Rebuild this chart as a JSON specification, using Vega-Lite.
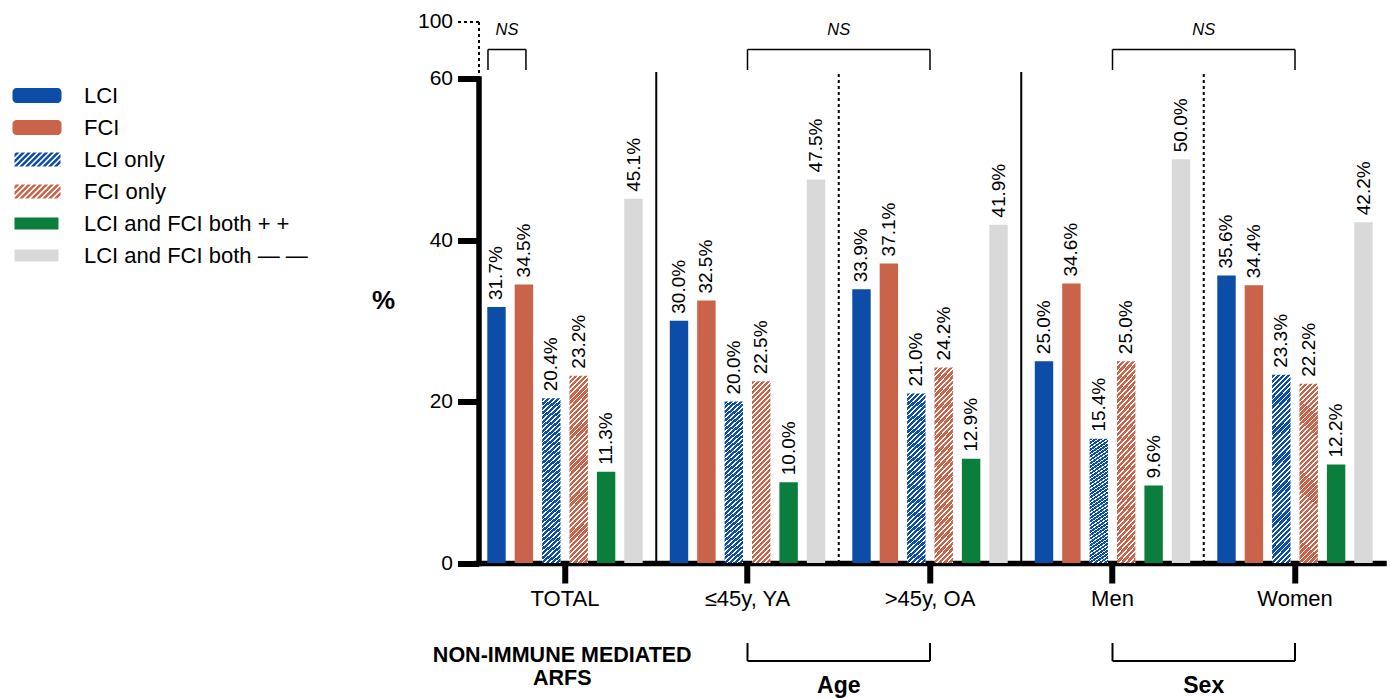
{
  "$schema": "https://vega.github.io/schema/vega-lite/v6.json",
  "width": 912.5,
  "height": 484.5,
  "autosize": {"type": "none"},
  "padding": {"left": 473.75, "top": 78.5, "right": 3.75, "bottom": 135},
  "config": {
    "font": "Liberation Sans",
    "view": {"stroke": null},
    "axis": {"labelFont": "Liberation Sans", "titleFont": "Liberation Sans"},
    "legend": {"labelFont": "Liberation Sans"}
  },
  "datasets": {
    "bars": [
      {"group": "TOTAL", "series": "LCI", "value": 31.7},
      {"group": "TOTAL", "series": "FCI", "value": 34.5},
      {"group": "TOTAL", "series": "LCI only", "value": 20.4},
      {"group": "TOTAL", "series": "FCI only", "value": 23.2},
      {"group": "TOTAL", "series": "LCI and FCI both + +", "value": 11.3},
      {"group": "TOTAL", "series": "LCI and FCI both — —", "value": 45.1},
      {"group": "≤45y, YA", "series": "LCI", "value": 30.0},
      {"group": "≤45y, YA", "series": "FCI", "value": 32.5},
      {"group": "≤45y, YA", "series": "LCI only", "value": 20.0},
      {"group": "≤45y, YA", "series": "FCI only", "value": 22.5},
      {"group": "≤45y, YA", "series": "LCI and FCI both + +", "value": 10.0},
      {"group": "≤45y, YA", "series": "LCI and FCI both — —", "value": 47.5},
      {"group": ">45y, OA", "series": "LCI", "value": 33.9},
      {"group": ">45y, OA", "series": "FCI", "value": 37.1},
      {"group": ">45y, OA", "series": "LCI only", "value": 21.0},
      {"group": ">45y, OA", "series": "FCI only", "value": 24.2},
      {"group": ">45y, OA", "series": "LCI and FCI both + +", "value": 12.9},
      {"group": ">45y, OA", "series": "LCI and FCI both — —", "value": 41.9},
      {"group": "Men", "series": "LCI", "value": 25.0},
      {"group": "Men", "series": "FCI", "value": 34.6},
      {"group": "Men", "series": "LCI only", "value": 15.4},
      {"group": "Men", "series": "FCI only", "value": 25.0},
      {"group": "Men", "series": "LCI and FCI both + +", "value": 9.6},
      {"group": "Men", "series": "LCI and FCI both — —", "value": 50.0},
      {"group": "Women", "series": "LCI", "value": 35.6},
      {"group": "Women", "series": "FCI", "value": 34.4},
      {"group": "Women", "series": "LCI only", "value": 23.3},
      {"group": "Women", "series": "FCI only", "value": 22.2},
      {"group": "Women", "series": "LCI and FCI both + +", "value": 12.2},
      {"group": "Women", "series": "LCI and FCI both — —", "value": 42.2}
    ],
    "boundaries": [
      {"group": "≤45y, YA", "kind": "between"},
      {"group": ">45y, OA", "kind": "within"},
      {"group": "Men", "kind": "between"},
      {"group": "Women", "kind": "within"}
    ],
    "spans": [
      {"from": "≤45y, YA", "to": ">45y, OA"},
      {"from": "Men", "to": "Women"}
    ],
    "ends": [
      {"at": "≤45y, YA"}, {"at": ">45y, OA"}, {"at": "Men"}, {"at": "Women"}
    ]
  },
  "layer": [
    {
      "layer": [
        {
          "data": {"name": "bars"},
          "mark": {"type": "point", "filled": true, "opacity": 0, "size": 225},
          "encoding": {
            "x": {"field": "group", "type": "nominal", "sort": null, "scale": {"domain": ["TOTAL", "≤45y, YA", ">45y, OA", "Men", "Women"], "paddingInner": 0, "paddingOuter": 0}},
            "xOffset": {"field": "series", "type": "nominal", "sort": null, "scale": {"domain": ["LCI", "FCI", "LCI only", "FCI only", "LCI and FCI both + +", "LCI and FCI both — —"], "paddingInner": 0.328, "paddingOuter": 0.494}},
            "y": {"field": "value", "type": "quantitative", "scale": {"domain": [0, 60], "nice": false}},
            "color": {"field": "series", "type": "nominal", "sort": null,
              "scale": {"domain": ["LCI", "FCI", "LCI only", "FCI only", "LCI and FCI both + +", "LCI and FCI both — —"], "range": ["#0B4DA7", "#C9634A", "#0B4DA7", "#C9634A", "#0B7E3D", "#D9D9D9"]},
              "legend": {"orient": "none", "legendX": -464.75, "legendY": 6, "title": null, "padding": 0, "symbolSize": 225, "symbolOpacity": 1, "symbolStrokeWidth": 0, "labelFontSize": 22, "labelColor": "black", "labelOffset": 53, "labelLimit": 500, "rowPadding": 10}},
            "shape": {"field": "series", "type": "nominal", "sort": null,
              "scale": {"domain": ["LCI", "FCI", "LCI only", "FCI only", "LCI and FCI both + +", "LCI and FCI both — —"], "range": [
                "M-0.467,-1H5A0.533,0.533,0,0,1,5.533,-0.467V0.467A0.533,0.533,0,0,1,5,1H-0.467A0.533,0.533,0,0,1,-1,0.467V-0.467A0.533,0.533,0,0,1,-0.467,-1Z",
                "M-0.467,-1H5A0.533,0.533,0,0,1,5.533,-0.467V0.467A0.533,0.533,0,0,1,5,1H-0.467A0.533,0.533,0,0,1,-1,0.467V-0.467A0.533,0.533,0,0,1,-0.467,-1Z",
                "M-0.733,-0.733L-0.733,-0.267L-0.067,-0.933L-0.533,-0.933ZM-0.733,0.033L-0.733,0.5L0.7,-0.933L0.233,-0.933ZM-0.733,0.8L-0.733,0.933L-0.4,0.933L1.467,-0.933L1,-0.933ZM-0.1,0.933L0.367,0.933L2.233,-0.933L1.767,-0.933ZM0.667,0.933L1.133,0.933L3,-0.933L2.533,-0.933ZM1.433,0.933L1.9,0.933L3.767,-0.933L3.3,-0.933ZM2.2,0.933L2.667,0.933L4.533,-0.933L4.067,-0.933ZM2.967,0.933L3.433,0.933L5.3,-0.933L4.833,-0.933ZM3.733,0.933L4.2,0.933L5.4,-0.267L5.4,-0.733ZM4.5,0.933L4.967,0.933L5.4,0.5L5.4,0.033ZM5.267,0.933L5.4,0.933L5.4,0.8Z",
                "M-0.733,-0.733L-0.733,-0.267L-0.067,-0.933L-0.533,-0.933ZM-0.733,0.033L-0.733,0.5L0.7,-0.933L0.233,-0.933ZM-0.733,0.8L-0.733,0.933L-0.4,0.933L1.467,-0.933L1,-0.933ZM-0.1,0.933L0.367,0.933L2.233,-0.933L1.767,-0.933ZM0.667,0.933L1.133,0.933L3,-0.933L2.533,-0.933ZM1.433,0.933L1.9,0.933L3.767,-0.933L3.3,-0.933ZM2.2,0.933L2.667,0.933L4.533,-0.933L4.067,-0.933ZM2.967,0.933L3.433,0.933L5.3,-0.933L4.833,-0.933ZM3.733,0.933L4.2,0.933L5.4,-0.267L5.4,-0.733ZM4.5,0.933L4.967,0.933L5.4,0.5L5.4,0.033ZM5.267,0.933L5.4,0.933L5.4,0.8Z",
                "M-0.733,-0.8H5.133V0.8H-0.733Z",
                "M-0.733,-0.8H5.133V0.8H-0.733Z"
              ]},
              "legend": {"orient": "none", "legendX": -464.75, "legendY": 6, "title": null, "padding": 0, "symbolSize": 225, "symbolOpacity": 1, "symbolStrokeWidth": 0, "labelFontSize": 22, "labelColor": "black", "labelOffset": 53, "labelLimit": 500, "rowPadding": 10}}
          }
        },
        {
          "data": {"name": "bars"},
          "transform": [{"filter": {"field": "series", "oneOf": ["LCI", "FCI", "LCI and FCI both + +", "LCI and FCI both — —"]}}],
          "mark": {"type": "bar"},
          "encoding": {
            "x": {"field": "group", "type": "nominal", "sort": null,
              "scale": {"domain": ["TOTAL", "≤45y, YA", ">45y, OA", "Men", "Women"], "paddingInner": 0, "paddingOuter": 0},
              "axis": {"title": null, "labelAngle": 0, "labelAlign": "center", "labelBaseline": "top", "labelFontSize": 22, "labelColor": "black", "labelPadding": 5, "domainColor": "black", "domainWidth": 5.5, "tickColor": "black", "tickWidth": 6, "tickSize": 20, "grid": false}},
            "xOffset": {"field": "series", "type": "nominal", "sort": null,
              "scale": {"domain": ["LCI", "FCI", "LCI only", "FCI only", "LCI and FCI both + +", "LCI and FCI both — —"], "paddingInner": 0.328, "paddingOuter": 0.494}},
            "y": {"field": "value", "type": "quantitative",
              "scale": {"domain": [0, 60], "nice": false},
              "axis": {"title": "%", "titleAngle": 0, "titleX": -95.5, "titleY": 221.5, "titleAlign": "center", "titleBaseline": "middle", "titleFontSize": 26, "titleFontWeight": "bold", "titleColor": "black",
                "values": [0, 20, 40, 60], "offset": -4.75, "domainColor": "black", "domainWidth": 5.5, "domainCap": "square", "tickColor": "black", "tickWidth": 6, "tickSize": 21, "labelFontSize": 21, "labelColor": "black", "labelPadding": 5, "grid": false}},
            "color": {"field": "series", "type": "nominal", "sort": null,
              "scale": {"domain": ["LCI", "FCI", "LCI only", "FCI only", "LCI and FCI both + +", "LCI and FCI both — —"], "range": ["#0B4DA7", "#C9634A", "#0B4DA7", "#C9634A", "#0B7E3D", "#D9D9D9"]},
              "legend": {"orient": "none", "legendX": -464.75, "legendY": 6, "title": null, "padding": 0, "symbolSize": 225, "symbolOpacity": 1, "symbolStrokeWidth": 0, "labelFontSize": 22, "labelColor": "black", "labelOffset": 53, "labelLimit": 500, "rowPadding": 10}}
          }
        },
        {
          "data": {"name": "bars"},
          "transform": [{"filter": {"field": "series", "equal": "LCI only"}}],
          "mark": {"type": "bar", "fill": {"gradient": "linear", "x1": 0, "y1": 0, "x2": 0.1089, "y2": 1.089, "stops": [
            {"offset":0,"color":"#0B4DA7"},{"offset":0.0165,"color":"#0B4DA7"},{"offset":0.0165,"color":"#ffffff"},{"offset":0.025,"color":"#ffffff"},
            {"offset":0.025,"color":"#0B4DA7"},{"offset":0.0415,"color":"#0B4DA7"},{"offset":0.0415,"color":"#ffffff"},{"offset":0.05,"color":"#ffffff"},
            {"offset":0.05,"color":"#0B4DA7"},{"offset":0.0665,"color":"#0B4DA7"},{"offset":0.0665,"color":"#ffffff"},{"offset":0.075,"color":"#ffffff"},
            {"offset":0.075,"color":"#0B4DA7"},{"offset":0.0915,"color":"#0B4DA7"},{"offset":0.0915,"color":"#ffffff"},{"offset":0.1,"color":"#ffffff"},
            {"offset":0.1,"color":"#0B4DA7"},{"offset":0.1165,"color":"#0B4DA7"},{"offset":0.1165,"color":"#ffffff"},{"offset":0.125,"color":"#ffffff"},
            {"offset":0.125,"color":"#0B4DA7"},{"offset":0.1415,"color":"#0B4DA7"},{"offset":0.1415,"color":"#ffffff"},{"offset":0.15,"color":"#ffffff"},
            {"offset":0.15,"color":"#0B4DA7"},{"offset":0.1665,"color":"#0B4DA7"},{"offset":0.1665,"color":"#ffffff"},{"offset":0.175,"color":"#ffffff"},
            {"offset":0.175,"color":"#0B4DA7"},{"offset":0.1915,"color":"#0B4DA7"},{"offset":0.1915,"color":"#ffffff"},{"offset":0.2,"color":"#ffffff"},
            {"offset":0.2,"color":"#0B4DA7"},{"offset":0.2165,"color":"#0B4DA7"},{"offset":0.2165,"color":"#ffffff"},{"offset":0.225,"color":"#ffffff"},
            {"offset":0.225,"color":"#0B4DA7"},{"offset":0.2415,"color":"#0B4DA7"},{"offset":0.2415,"color":"#ffffff"},{"offset":0.25,"color":"#ffffff"},
            {"offset":0.25,"color":"#0B4DA7"},{"offset":0.2665,"color":"#0B4DA7"},{"offset":0.2665,"color":"#ffffff"},{"offset":0.275,"color":"#ffffff"},
            {"offset":0.275,"color":"#0B4DA7"},{"offset":0.2915,"color":"#0B4DA7"},{"offset":0.2915,"color":"#ffffff"},{"offset":0.3,"color":"#ffffff"},
            {"offset":0.3,"color":"#0B4DA7"},{"offset":0.3165,"color":"#0B4DA7"},{"offset":0.3165,"color":"#ffffff"},{"offset":0.325,"color":"#ffffff"},
            {"offset":0.325,"color":"#0B4DA7"},{"offset":0.3415,"color":"#0B4DA7"},{"offset":0.3415,"color":"#ffffff"},{"offset":0.35,"color":"#ffffff"},
            {"offset":0.35,"color":"#0B4DA7"},{"offset":0.3665,"color":"#0B4DA7"},{"offset":0.3665,"color":"#ffffff"},{"offset":0.375,"color":"#ffffff"},
            {"offset":0.375,"color":"#0B4DA7"},{"offset":0.3915,"color":"#0B4DA7"},{"offset":0.3915,"color":"#ffffff"},{"offset":0.4,"color":"#ffffff"},
            {"offset":0.4,"color":"#0B4DA7"},{"offset":0.4165,"color":"#0B4DA7"},{"offset":0.4165,"color":"#ffffff"},{"offset":0.425,"color":"#ffffff"},
            {"offset":0.425,"color":"#0B4DA7"},{"offset":0.4415,"color":"#0B4DA7"},{"offset":0.4415,"color":"#ffffff"},{"offset":0.45,"color":"#ffffff"},
            {"offset":0.45,"color":"#0B4DA7"},{"offset":0.4665,"color":"#0B4DA7"},{"offset":0.4665,"color":"#ffffff"},{"offset":0.475,"color":"#ffffff"},
            {"offset":0.475,"color":"#0B4DA7"},{"offset":0.4915,"color":"#0B4DA7"},{"offset":0.4915,"color":"#ffffff"},{"offset":0.5,"color":"#ffffff"},
            {"offset":0.5,"color":"#0B4DA7"},{"offset":0.5165,"color":"#0B4DA7"},{"offset":0.5165,"color":"#ffffff"},{"offset":0.525,"color":"#ffffff"},
            {"offset":0.525,"color":"#0B4DA7"},{"offset":0.5415,"color":"#0B4DA7"},{"offset":0.5415,"color":"#ffffff"},{"offset":0.55,"color":"#ffffff"},
            {"offset":0.55,"color":"#0B4DA7"},{"offset":0.5665,"color":"#0B4DA7"},{"offset":0.5665,"color":"#ffffff"},{"offset":0.575,"color":"#ffffff"},
            {"offset":0.575,"color":"#0B4DA7"},{"offset":0.5915,"color":"#0B4DA7"},{"offset":0.5915,"color":"#ffffff"},{"offset":0.6,"color":"#ffffff"},
            {"offset":0.6,"color":"#0B4DA7"},{"offset":0.6165,"color":"#0B4DA7"},{"offset":0.6165,"color":"#ffffff"},{"offset":0.625,"color":"#ffffff"},
            {"offset":0.625,"color":"#0B4DA7"},{"offset":0.6415,"color":"#0B4DA7"},{"offset":0.6415,"color":"#ffffff"},{"offset":0.65,"color":"#ffffff"},
            {"offset":0.65,"color":"#0B4DA7"},{"offset":0.6665,"color":"#0B4DA7"},{"offset":0.6665,"color":"#ffffff"},{"offset":0.675,"color":"#ffffff"},
            {"offset":0.675,"color":"#0B4DA7"},{"offset":0.6915,"color":"#0B4DA7"},{"offset":0.6915,"color":"#ffffff"},{"offset":0.7,"color":"#ffffff"},
            {"offset":0.7,"color":"#0B4DA7"},{"offset":0.7165,"color":"#0B4DA7"},{"offset":0.7165,"color":"#ffffff"},{"offset":0.725,"color":"#ffffff"},
            {"offset":0.725,"color":"#0B4DA7"},{"offset":0.7415,"color":"#0B4DA7"},{"offset":0.7415,"color":"#ffffff"},{"offset":0.75,"color":"#ffffff"},
            {"offset":0.75,"color":"#0B4DA7"},{"offset":0.7665,"color":"#0B4DA7"},{"offset":0.7665,"color":"#ffffff"},{"offset":0.775,"color":"#ffffff"},
            {"offset":0.775,"color":"#0B4DA7"},{"offset":0.7915,"color":"#0B4DA7"},{"offset":0.7915,"color":"#ffffff"},{"offset":0.8,"color":"#ffffff"},
            {"offset":0.8,"color":"#0B4DA7"},{"offset":0.8165,"color":"#0B4DA7"},{"offset":0.8165,"color":"#ffffff"},{"offset":0.825,"color":"#ffffff"},
            {"offset":0.825,"color":"#0B4DA7"},{"offset":0.8415,"color":"#0B4DA7"},{"offset":0.8415,"color":"#ffffff"},{"offset":0.85,"color":"#ffffff"},
            {"offset":0.85,"color":"#0B4DA7"},{"offset":0.8665,"color":"#0B4DA7"},{"offset":0.8665,"color":"#ffffff"},{"offset":0.875,"color":"#ffffff"},
            {"offset":0.875,"color":"#0B4DA7"},{"offset":0.8915,"color":"#0B4DA7"},{"offset":0.8915,"color":"#ffffff"},{"offset":0.9,"color":"#ffffff"},
            {"offset":0.9,"color":"#0B4DA7"},{"offset":0.9165,"color":"#0B4DA7"},{"offset":0.9165,"color":"#ffffff"},{"offset":0.925,"color":"#ffffff"},
            {"offset":0.925,"color":"#0B4DA7"},{"offset":0.9415,"color":"#0B4DA7"},{"offset":0.9415,"color":"#ffffff"},{"offset":0.95,"color":"#ffffff"},
            {"offset":0.95,"color":"#0B4DA7"},{"offset":0.9665,"color":"#0B4DA7"},{"offset":0.9665,"color":"#ffffff"},{"offset":0.975,"color":"#ffffff"},
            {"offset":0.975,"color":"#0B4DA7"},{"offset":0.9915,"color":"#0B4DA7"},{"offset":0.9915,"color":"#ffffff"},{"offset":1,"color":"#ffffff"}
          ]}},
          "encoding": {
            "x": {"field": "group", "type": "nominal", "sort": null, "scale": {"domain": ["TOTAL", "≤45y, YA", ">45y, OA", "Men", "Women"], "paddingInner": 0, "paddingOuter": 0}},
            "xOffset": {"field": "series", "type": "nominal", "sort": null, "scale": {"domain": ["LCI", "FCI", "LCI only", "FCI only", "LCI and FCI both + +", "LCI and FCI both — —"], "paddingInner": 0.328, "paddingOuter": 0.494}},
            "y": {"field": "value", "type": "quantitative", "scale": {"domain": [0, 60], "nice": false}}
          }
        },
        {
          "data": {"name": "bars"},
          "transform": [{"filter": {"field": "series", "equal": "FCI only"}}],
          "mark": {"type": "bar", "fill": {"gradient": "linear", "x1": 0, "y1": 0, "x2": 0.1089, "y2": 1.089, "stops": [
            {"offset":0,"color":"#C9634A"},{"offset":0.0165,"color":"#C9634A"},{"offset":0.0165,"color":"#ffffff"},{"offset":0.025,"color":"#ffffff"},
            {"offset":0.025,"color":"#C9634A"},{"offset":0.0415,"color":"#C9634A"},{"offset":0.0415,"color":"#ffffff"},{"offset":0.05,"color":"#ffffff"},
            {"offset":0.05,"color":"#C9634A"},{"offset":0.0665,"color":"#C9634A"},{"offset":0.0665,"color":"#ffffff"},{"offset":0.075,"color":"#ffffff"},
            {"offset":0.075,"color":"#C9634A"},{"offset":0.0915,"color":"#C9634A"},{"offset":0.0915,"color":"#ffffff"},{"offset":0.1,"color":"#ffffff"},
            {"offset":0.1,"color":"#C9634A"},{"offset":0.1165,"color":"#C9634A"},{"offset":0.1165,"color":"#ffffff"},{"offset":0.125,"color":"#ffffff"},
            {"offset":0.125,"color":"#C9634A"},{"offset":0.1415,"color":"#C9634A"},{"offset":0.1415,"color":"#ffffff"},{"offset":0.15,"color":"#ffffff"},
            {"offset":0.15,"color":"#C9634A"},{"offset":0.1665,"color":"#C9634A"},{"offset":0.1665,"color":"#ffffff"},{"offset":0.175,"color":"#ffffff"},
            {"offset":0.175,"color":"#C9634A"},{"offset":0.1915,"color":"#C9634A"},{"offset":0.1915,"color":"#ffffff"},{"offset":0.2,"color":"#ffffff"},
            {"offset":0.2,"color":"#C9634A"},{"offset":0.2165,"color":"#C9634A"},{"offset":0.2165,"color":"#ffffff"},{"offset":0.225,"color":"#ffffff"},
            {"offset":0.225,"color":"#C9634A"},{"offset":0.2415,"color":"#C9634A"},{"offset":0.2415,"color":"#ffffff"},{"offset":0.25,"color":"#ffffff"},
            {"offset":0.25,"color":"#C9634A"},{"offset":0.2665,"color":"#C9634A"},{"offset":0.2665,"color":"#ffffff"},{"offset":0.275,"color":"#ffffff"},
            {"offset":0.275,"color":"#C9634A"},{"offset":0.2915,"color":"#C9634A"},{"offset":0.2915,"color":"#ffffff"},{"offset":0.3,"color":"#ffffff"},
            {"offset":0.3,"color":"#C9634A"},{"offset":0.3165,"color":"#C9634A"},{"offset":0.3165,"color":"#ffffff"},{"offset":0.325,"color":"#ffffff"},
            {"offset":0.325,"color":"#C9634A"},{"offset":0.3415,"color":"#C9634A"},{"offset":0.3415,"color":"#ffffff"},{"offset":0.35,"color":"#ffffff"},
            {"offset":0.35,"color":"#C9634A"},{"offset":0.3665,"color":"#C9634A"},{"offset":0.3665,"color":"#ffffff"},{"offset":0.375,"color":"#ffffff"},
            {"offset":0.375,"color":"#C9634A"},{"offset":0.3915,"color":"#C9634A"},{"offset":0.3915,"color":"#ffffff"},{"offset":0.4,"color":"#ffffff"},
            {"offset":0.4,"color":"#C9634A"},{"offset":0.4165,"color":"#C9634A"},{"offset":0.4165,"color":"#ffffff"},{"offset":0.425,"color":"#ffffff"},
            {"offset":0.425,"color":"#C9634A"},{"offset":0.4415,"color":"#C9634A"},{"offset":0.4415,"color":"#ffffff"},{"offset":0.45,"color":"#ffffff"},
            {"offset":0.45,"color":"#C9634A"},{"offset":0.4665,"color":"#C9634A"},{"offset":0.4665,"color":"#ffffff"},{"offset":0.475,"color":"#ffffff"},
            {"offset":0.475,"color":"#C9634A"},{"offset":0.4915,"color":"#C9634A"},{"offset":0.4915,"color":"#ffffff"},{"offset":0.5,"color":"#ffffff"},
            {"offset":0.5,"color":"#C9634A"},{"offset":0.5165,"color":"#C9634A"},{"offset":0.5165,"color":"#ffffff"},{"offset":0.525,"color":"#ffffff"},
            {"offset":0.525,"color":"#C9634A"},{"offset":0.5415,"color":"#C9634A"},{"offset":0.5415,"color":"#ffffff"},{"offset":0.55,"color":"#ffffff"},
            {"offset":0.55,"color":"#C9634A"},{"offset":0.5665,"color":"#C9634A"},{"offset":0.5665,"color":"#ffffff"},{"offset":0.575,"color":"#ffffff"},
            {"offset":0.575,"color":"#C9634A"},{"offset":0.5915,"color":"#C9634A"},{"offset":0.5915,"color":"#ffffff"},{"offset":0.6,"color":"#ffffff"},
            {"offset":0.6,"color":"#C9634A"},{"offset":0.6165,"color":"#C9634A"},{"offset":0.6165,"color":"#ffffff"},{"offset":0.625,"color":"#ffffff"},
            {"offset":0.625,"color":"#C9634A"},{"offset":0.6415,"color":"#C9634A"},{"offset":0.6415,"color":"#ffffff"},{"offset":0.65,"color":"#ffffff"},
            {"offset":0.65,"color":"#C9634A"},{"offset":0.6665,"color":"#C9634A"},{"offset":0.6665,"color":"#ffffff"},{"offset":0.675,"color":"#ffffff"},
            {"offset":0.675,"color":"#C9634A"},{"offset":0.6915,"color":"#C9634A"},{"offset":0.6915,"color":"#ffffff"},{"offset":0.7,"color":"#ffffff"},
            {"offset":0.7,"color":"#C9634A"},{"offset":0.7165,"color":"#C9634A"},{"offset":0.7165,"color":"#ffffff"},{"offset":0.725,"color":"#ffffff"},
            {"offset":0.725,"color":"#C9634A"},{"offset":0.7415,"color":"#C9634A"},{"offset":0.7415,"color":"#ffffff"},{"offset":0.75,"color":"#ffffff"},
            {"offset":0.75,"color":"#C9634A"},{"offset":0.7665,"color":"#C9634A"},{"offset":0.7665,"color":"#ffffff"},{"offset":0.775,"color":"#ffffff"},
            {"offset":0.775,"color":"#C9634A"},{"offset":0.7915,"color":"#C9634A"},{"offset":0.7915,"color":"#ffffff"},{"offset":0.8,"color":"#ffffff"},
            {"offset":0.8,"color":"#C9634A"},{"offset":0.8165,"color":"#C9634A"},{"offset":0.8165,"color":"#ffffff"},{"offset":0.825,"color":"#ffffff"},
            {"offset":0.825,"color":"#C9634A"},{"offset":0.8415,"color":"#C9634A"},{"offset":0.8415,"color":"#ffffff"},{"offset":0.85,"color":"#ffffff"},
            {"offset":0.85,"color":"#C9634A"},{"offset":0.8665,"color":"#C9634A"},{"offset":0.8665,"color":"#ffffff"},{"offset":0.875,"color":"#ffffff"},
            {"offset":0.875,"color":"#C9634A"},{"offset":0.8915,"color":"#C9634A"},{"offset":0.8915,"color":"#ffffff"},{"offset":0.9,"color":"#ffffff"},
            {"offset":0.9,"color":"#C9634A"},{"offset":0.9165,"color":"#C9634A"},{"offset":0.9165,"color":"#ffffff"},{"offset":0.925,"color":"#ffffff"},
            {"offset":0.925,"color":"#C9634A"},{"offset":0.9415,"color":"#C9634A"},{"offset":0.9415,"color":"#ffffff"},{"offset":0.95,"color":"#ffffff"},
            {"offset":0.95,"color":"#C9634A"},{"offset":0.9665,"color":"#C9634A"},{"offset":0.9665,"color":"#ffffff"},{"offset":0.975,"color":"#ffffff"},
            {"offset":0.975,"color":"#C9634A"},{"offset":0.9915,"color":"#C9634A"},{"offset":0.9915,"color":"#ffffff"},{"offset":1,"color":"#ffffff"}
          ]}},
          "encoding": {
            "x": {"field": "group", "type": "nominal", "sort": null, "scale": {"domain": ["TOTAL", "≤45y, YA", ">45y, OA", "Men", "Women"], "paddingInner": 0, "paddingOuter": 0}},
            "xOffset": {"field": "series", "type": "nominal", "sort": null, "scale": {"domain": ["LCI", "FCI", "LCI only", "FCI only", "LCI and FCI both + +", "LCI and FCI both — —"], "paddingInner": 0.328, "paddingOuter": 0.494}},
            "y": {"field": "value", "type": "quantitative", "scale": {"domain": [0, 60], "nice": false}}
          }
        },
        {
          "data": {"name": "bars"},
          "mark": {"type": "text", "angle": 270, "align": "left", "baseline": "middle", "dx": 7, "fontSize": 19, "color": "black", "text": {"expr": "format(datum.value, '.1f') + '%'"}},
          "encoding": {
            "x": {"field": "group", "type": "nominal", "sort": null, "scale": {"domain": ["TOTAL", "≤45y, YA", ">45y, OA", "Men", "Women"], "paddingInner": 0, "paddingOuter": 0}},
            "xOffset": {"field": "series", "type": "nominal", "sort": null, "scale": {"domain": ["LCI", "FCI", "LCI only", "FCI only", "LCI and FCI both + +", "LCI and FCI both — —"], "paddingInner": 0.328, "paddingOuter": 0.494}},
            "y": {"field": "value", "type": "quantitative", "scale": {"domain": [0, 60], "nice": false}}
          }
        },
        {
          "data": {"name": "boundaries"},
          "mark": {"type": "rule", "strokeWidth": 2, "color": "black"},
          "encoding": {
            "x": {"field": "group", "type": "nominal", "bandPosition": 0, "scale": {"domain": ["TOTAL", "≤45y, YA", ">45y, OA", "Men", "Women"], "paddingInner": 0, "paddingOuter": 0}},
            "y": {"datum": 0, "type": "quantitative"},
            "y2": {"datum": 60.8},
            "strokeDash": {"field": "kind", "type": "nominal", "scale": {"domain": ["between", "within"], "range": [[1, 0], [3, 3]]}, "legend": null}
          }
        },
        {
          "data": {"name": "spans"},
          "mark": {"type": "rule", "strokeWidth": 1.5, "color": "black"},
          "encoding": {
            "x": {"field": "from", "type": "nominal", "bandPosition": 0.5, "scale": {"domain": ["TOTAL", "≤45y, YA", ">45y, OA", "Men", "Women"], "paddingInner": 0, "paddingOuter": 0}},
            "x2": {"field": "to", "bandPosition": 0.5},
            "y": {"datum": 63.59, "type": "quantitative"}
          }
        },
        {
          "data": {"name": "ends"},
          "mark": {"type": "rule", "strokeWidth": 1.5, "color": "black"},
          "encoding": {
            "x": {"field": "at", "type": "nominal", "bandPosition": 0.5, "scale": {"domain": ["TOTAL", "≤45y, YA", ">45y, OA", "Men", "Women"], "paddingInner": 0, "paddingOuter": 0}},
            "y": {"datum": 61.05, "type": "quantitative"},
            "y2": {"datum": 63.59}
          }
        },
        {
          "data": {"values": [{}]},
          "mark": {"type": "rule", "strokeWidth": 1.5, "color": "black"},
          "encoding": {
            "x": {"datum": "TOTAL", "type": "nominal", "bandPosition": 0.078, "scale": {"domain": ["TOTAL", "≤45y, YA", ">45y, OA", "Men", "Women"], "paddingInner": 0, "paddingOuter": 0}},
            "x2": {"datum": "TOTAL", "bandPosition": 0.286},
            "y": {"datum": 63.59, "type": "quantitative"}
          }
        },
        {
          "data": {"values": [{}]},
          "mark": {"type": "rule", "strokeWidth": 1.5, "color": "black"},
          "encoding": {
            "x": {"datum": "TOTAL", "type": "nominal", "bandPosition": 0.078, "scale": {"domain": ["TOTAL", "≤45y, YA", ">45y, OA", "Men", "Women"], "paddingInner": 0, "paddingOuter": 0}},
            "y": {"datum": 61.05, "type": "quantitative"},
            "y2": {"datum": 63.59}
          }
        },
        {
          "data": {"values": [{}]},
          "mark": {"type": "rule", "strokeWidth": 1.5, "color": "black"},
          "encoding": {
            "x": {"datum": "TOTAL", "type": "nominal", "bandPosition": 0.286, "scale": {"domain": ["TOTAL", "≤45y, YA", ">45y, OA", "Men", "Women"], "paddingInner": 0, "paddingOuter": 0}},
            "y": {"datum": 61.05, "type": "quantitative"},
            "y2": {"datum": 63.59}
          }
        },
        {
          "data": {"values": [{"at": ">45y, OA", "label": "NS"}, {"at": "Women", "label": "NS"}]},
          "mark": {"type": "text", "fontSize": 16.5, "fontStyle": "italic", "color": "black", "align": "center", "baseline": "middle"},
          "encoding": {
            "x": {"field": "at", "type": "nominal", "bandPosition": 0, "scale": {"domain": ["TOTAL", "≤45y, YA", ">45y, OA", "Men", "Women"], "paddingInner": 0, "paddingOuter": 0}},
            "y": {"datum": 66.0, "type": "quantitative"},
            "text": {"field": "label"}
          }
        },
        {
          "data": {"values": [{"at": "TOTAL", "label": "NS"}]},
          "mark": {"type": "text", "fontSize": 16.5, "fontStyle": "italic", "color": "black", "align": "center", "baseline": "middle"},
          "encoding": {
            "x": {"field": "at", "type": "nominal", "bandPosition": 0.182, "scale": {"domain": ["TOTAL", "≤45y, YA", ">45y, OA", "Men", "Women"], "paddingInner": 0, "paddingOuter": 0}},
            "y": {"datum": 66.0, "type": "quantitative"},
            "text": {"field": "label"}
          }
        },
        {
          "data": {"name": "spans"},
          "mark": {"type": "rule", "strokeWidth": 2, "color": "black"},
          "encoding": {
            "x": {"field": "from", "type": "nominal", "bandPosition": 0.5, "scale": {"domain": ["TOTAL", "≤45y, YA", ">45y, OA", "Men", "Women"], "paddingInner": 0, "paddingOuter": 0}},
            "x2": {"field": "to", "bandPosition": 0.5},
            "y": {"datum": -12.14, "type": "quantitative"}
          }
        },
        {
          "data": {"name": "ends"},
          "mark": {"type": "rule", "strokeWidth": 2, "color": "black"},
          "encoding": {
            "x": {"field": "at", "type": "nominal", "bandPosition": 0.5, "scale": {"domain": ["TOTAL", "≤45y, YA", ">45y, OA", "Men", "Women"], "paddingInner": 0, "paddingOuter": 0}},
            "y": {"datum": -9.91, "type": "quantitative"},
            "y2": {"datum": -12.14}
          }
        },
        {
          "data": {"values": [{"at": "TOTAL", "label": "NON-IMMUNE MEDIATED\nARFS"}]},
          "mark": {"type": "text", "fontSize": 21.5, "fontWeight": "bold", "color": "black", "align": "center", "baseline": "top", "lineBreak": "\n", "lineHeight": 23},
          "encoding": {
            "x": {"field": "at", "type": "nominal", "bandPosition": 0.485, "scale": {"domain": ["TOTAL", "≤45y, YA", ">45y, OA", "Men", "Women"], "paddingInner": 0, "paddingOuter": 0}},
            "y": {"datum": -10.1, "type": "quantitative"},
            "text": {"field": "label"}
          }
        },
        {
          "data": {"values": [{"at": ">45y, OA", "label": "Age"}, {"at": "Women", "label": "Sex"}]},
          "mark": {"type": "text", "fontSize": 23, "fontWeight": "bold", "color": "black", "align": "center", "baseline": "middle"},
          "encoding": {
            "x": {"field": "at", "type": "nominal", "bandPosition": 0, "scale": {"domain": ["TOTAL", "≤45y, YA", ">45y, OA", "Men", "Women"], "paddingInner": 0, "paddingOuter": 0}},
            "y": {"datum": -15.23, "type": "quantitative"},
            "text": {"field": "label"}
          }
        }
      ]
    },
    {
      "data": {"values": [{"v": 100}]},
      "mark": {"type": "point", "opacity": 0},
      "encoding": {
        "y": {"field": "v", "type": "quantitative",
          "scale": {"domain": [60, 100], "range": [0, -57.5], "nice": false, "zero": false},
          "axis": {"orient": "left", "values": [100], "offset": -4.75, "title": null, "domainColor": "black", "domainWidth": 2, "domainDash": [3, 3], "tickColor": "black", "tickWidth": 2, "tickDash": [3, 3], "tickSize": 21, "labelFontSize": 21, "labelColor": "black", "labelPadding": 5, "grid": false}}
      }
    }
  ],
  "resolve": {"scale": {"y": "independent"}, "axis": {"y": "independent"}}
}
